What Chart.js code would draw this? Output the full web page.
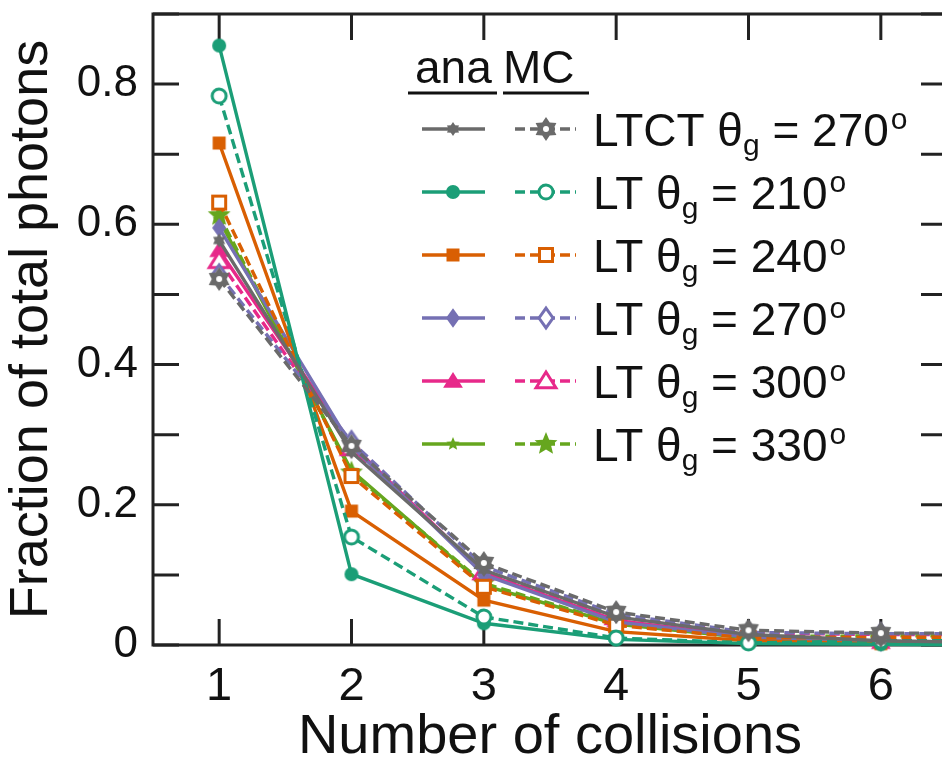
<!DOCTYPE html>
<html>
<head>
<meta charset="utf-8">
<script src="https://cdn.jsdelivr.net/npm/chart.js@4"></script>
<style>
  html, body { margin: 0; padding: 0; background: #fff; overflow: hidden; }
</style>
</head>
<body>
<canvas id="chart" width="960" height="771"></canvas>
<script>
// --- data ---
const collisions = [1, 2, 3, 4, 5, 6, 7];
const xTicks = [1, 2, 3, 4, 5, 6];
const yTicks = [0, 0.1, 0.2, 0.3, 0.4, 0.5, 0.6, 0.7, 0.8, 0.9];

const ltctAna  = [0.577, 0.275, 0.107, 0.040, 0.015, 0.006, 0.003];
const ltctMC   = [0.522, 0.284, 0.117, 0.047, 0.021, 0.017, 0.017];
const lt210Ana = [0.855, 0.101, 0.031, 0.008, 0.002, 0.001, 0.000];
const lt210MC  = [0.783, 0.154, 0.040, 0.010, 0.003, 0.006, 0.006];
const lt240Ana = [0.716, 0.191, 0.064, 0.019, 0.006, 0.002, 0.001];
const lt240MC  = [0.631, 0.241, 0.083, 0.028, 0.010, 0.011, 0.011];
const lt270Ana = [0.595, 0.284, 0.100, 0.033, 0.011, 0.004, 0.001];
const lt270MC  = [0.528, 0.290, 0.112, 0.044, 0.018, 0.016, 0.016];
const lt300Ana = [0.563, 0.286, 0.102, 0.035, 0.012, 0.004, 0.001];
const lt300MC  = [0.548, 0.281, 0.104, 0.040, 0.017, 0.015, 0.015];
const lt330Ana = [0.607, 0.249, 0.085, 0.030, 0.010, 0.003, 0.001];
const lt330MC  = [0.613, 0.246, 0.088, 0.031, 0.012, 0.013, 0.013];

const legendPrefix = ["LTCT θ", "LT θ", "LT θ", "LT θ", "LT θ", "LT θ"];
const legendAngle = ["270", "210", "240", "270", "300", "330"];

const FONT = '"Liberation Sans", Arial, Helvetica, sans-serif';
const INK = '#111';

// Marker images (drawn once on small canvases, used as pointStyle)
function tracePath(ctx, shape, cx, cy, s) {
  ctx.beginPath();
  if (shape === 'circle') {
    ctx.arc(cx, cy, s, 0, Math.PI * 2);
  } else if (shape === 'square') {
    ctx.rect(cx - s, cy - s, 2 * s, 2 * s);
  } else if (shape === 'diamond') {
    ctx.moveTo(cx, cy - s * 1.4);
    ctx.lineTo(cx + s, cy);
    ctx.lineTo(cx, cy + s * 1.4);
    ctx.lineTo(cx - s, cy);
    ctx.closePath();
  } else if (shape === 'triangle') {
    ctx.moveTo(cx, cy - s);
    ctx.lineTo(cx + s * 1.1, cy + s * 0.75);
    ctx.lineTo(cx - s * 1.1, cy + s * 0.75);
    ctx.closePath();
  } else if (shape === 'star5' || shape === 'star6') {
    const n = shape === 'star5' ? 5 : 6;
    const inner = shape === 'star5' ? 0.45 : 0.62;
    for (let i = 0; i < n * 2; i++) {
      const r = i % 2 === 0 ? s : s * inner;
      const a = -Math.PI / 2 + i * Math.PI / n;
      const px = cx + r * Math.cos(a), py = cy + r * Math.sin(a);
      if (i === 0) ctx.moveTo(px, py); else ctx.lineTo(px, py);
    }
    ctx.closePath();
  }
}

function makeMarker(shape, color, filled, s, hole) {
  const half = Math.ceil(s * 1.5) + 3;
  const c = document.createElement('canvas');
  c.width = c.height = half * 2;
  const ctx = c.getContext('2d');
  tracePath(ctx, shape, half, half, s);
  ctx.lineJoin = 'miter';
  if (filled) {
    ctx.fillStyle = color;
    ctx.fill();
    if (hole) {
      ctx.beginPath();
      ctx.arc(half, half, hole, 0, Math.PI * 2);
      ctx.fillStyle = '#fff';
      ctx.fill();
    }
  } else {
    ctx.fillStyle = '#fff';
    ctx.fill();
    ctx.strokeStyle = color;
    ctx.lineWidth = 3;
    ctx.stroke();
  }
  return c;
}

const GRAY = '#6a6a6a', TEAL = '#1b9e77', ORANGE = '#d95f02',
      PURPLE = '#7570b3', PINK = '#e7298a', GREEN = '#66a61e';

// rows of the legend: [ana series, MC series]
const rows = [
  { color: GRAY,   ana: ltctAna,  mc: ltctMC,  anaM: makeMarker('star6', GRAY, true, 7),      mcM: makeMarker('star6', GRAY, true, 12, 3) },
  { color: TEAL,   ana: lt210Ana, mc: lt210MC, anaM: makeMarker('circle', TEAL, true, 7),     mcM: makeMarker('circle', TEAL, false, 7) },
  { color: ORANGE, ana: lt240Ana, mc: lt240MC, anaM: makeMarker('square', ORANGE, true, 6.5), mcM: makeMarker('square', ORANGE, false, 6.5) },
  { color: PURPLE, ana: lt270Ana, mc: lt270MC, anaM: makeMarker('diamond', PURPLE, true, 7),  mcM: makeMarker('diamond', PURPLE, false, 7) },
  { color: PINK,   ana: lt300Ana, mc: lt300MC, anaM: makeMarker('triangle', PINK, true, 9),   mcM: makeMarker('triangle', PINK, false, 9) },
  { color: GREEN,  ana: lt330Ana, mc: lt330MC, anaM: makeMarker('star5', GREEN, true, 7),     mcM: makeMarker('star5', GREEN, true, 12) }
];

function toPoints(arr) {
  return collisions.map((c, i) => ({ x: c, y: arr[i] }));
}

const datasets = [];
rows.forEach(r => {
  datasets.push({
    data: toPoints(r.mc), borderColor: r.color, borderWidth: 3.4, borderDash: [10, 5],
    pointStyle: r.mcM, pointRadius: 8, tension: 0, fill: false, clip: false
  });
  datasets.push({
    data: toPoints(r.ana), borderColor: r.color, borderWidth: 3.4,
    pointStyle: r.anaM, pointRadius: 8, tension: 0, fill: false, clip: false
  });
});

// inward ticks + box frame
const framePlugin = {
  id: 'frame',
  beforeDatasetsDraw(chart) {
    const { ctx, chartArea: a, scales: { x, y } } = chart;
    const len = 26;
    ctx.save();
    ctx.strokeStyle = '#222';
    ctx.lineWidth = 3;
    ctx.beginPath();
    xTicks.forEach(v => {
      const px = x.getPixelForValue(v);
      ctx.moveTo(px, a.bottom); ctx.lineTo(px, a.bottom - len);
      ctx.moveTo(px, a.top); ctx.lineTo(px, a.top + len);
    });
    yTicks.forEach(v => {
      const py = y.getPixelForValue(v);
      ctx.moveTo(a.left, py); ctx.lineTo(a.left + len, py);
      ctx.moveTo(a.right, py); ctx.lineTo(a.right - len, py);
    });
    ctx.stroke();
    ctx.strokeRect(a.left, a.top, a.right - a.left, a.bottom - a.top);
    ctx.restore();
  }
};

// two-column legend (ana / MC) drawn on top
const legendPlugin = {
  id: 'twoColLegend',
  afterDraw(chart) {
    const ctx = chart.ctx;
    ctx.save();
    ctx.fillStyle = INK;
    ctx.font = '46px ' + FONT;
    ctx.textBaseline = 'alphabetic';
    ctx.fillText('ana', 415, 83);
    ctx.fillText('MC', 503, 83);
    ctx.strokeStyle = INK;
    ctx.lineWidth = 3;
    ctx.beginPath();
    ctx.moveTo(408, 93); ctx.lineTo(497, 93);
    ctx.moveTo(503, 93); ctx.lineTo(589, 93);
    ctx.stroke();

    rows.forEach((r, i) => {
      const yy = 129 + i * 63;
      ctx.strokeStyle = r.color;
      ctx.lineWidth = 3.4;
      ctx.setLineDash([]);
      ctx.beginPath(); ctx.moveTo(422, yy); ctx.lineTo(485, yy); ctx.stroke();
      ctx.setLineDash([10, 5]);
      ctx.beginPath(); ctx.moveTo(515, yy); ctx.lineTo(576, yy); ctx.stroke();
      ctx.setLineDash([]);
      ctx.drawImage(r.anaM, 453 - r.anaM.width / 2, yy - r.anaM.height / 2);
      ctx.drawImage(r.mcM, 546 - r.mcM.width / 2, yy - r.mcM.height / 2);

      // label with subscript g and superscript o
      const base = yy + 17;
      let tx = 593;
      ctx.fillStyle = INK;
      ctx.font = '46px ' + FONT;
      ctx.fillText(legendPrefix[i], tx, base);
      tx += ctx.measureText(legendPrefix[i]).width;
      ctx.font = '30px ' + FONT;
      ctx.fillText('g', tx, base + 9);
      tx += ctx.measureText('g').width;
      ctx.font = '46px ' + FONT;
      const rest = ' = ' + legendAngle[i];
      ctx.fillText(rest, tx, base);
      tx += ctx.measureText(rest).width + 2;
      ctx.font = '30px ' + FONT;
      ctx.fillText('o', tx, base - 17);
    });
    ctx.restore();
  }
};

function noPad(s) {
  s.paddingTop = 0; s.paddingBottom = 0; s.paddingLeft = 0; s.paddingRight = 0;
}

new Chart(document.getElementById('chart'), {
  type: 'line',
  data: { datasets },
  options: {
    responsive: false,
    animation: false,
    layout: { padding: { left: 0, right: 13, top: 14, bottom: 0 } },
    plugins: { legend: { display: false }, tooltip: { enabled: false } },
    scales: {
      x: {
        type: 'linear', min: 0.5, max: 6.5,
        afterBuildTicks: s => { s.ticks = xTicks.map(v => ({ value: v })); },
        afterFit: s => { s.height = 126; noPad(s); },
        grid: { display: false, drawTicks: false },
        border: { display: false },
        ticks: { font: { size: 47, family: FONT }, color: INK, padding: 14 },
        title: { display: true, text: 'Number of collisions', color: INK,
                 font: { size: 56, family: FONT }, padding: { top: 0, bottom: 0 } }
      },
      y: {
        type: 'linear', min: 0, max: 0.9,
        afterBuildTicks: s => { s.ticks = yTicks.map(v => ({ value: v })); },
        afterFit: s => { s.width = 153; noPad(s); },
        grid: { display: false, drawTicks: false },
        border: { display: false },
        ticks: {
          font: { size: 44, family: FONT }, color: INK, padding: 15,
          callback: v => {
            const k = Math.round(v * 10);
            if (k % 2 !== 0) return '';
            return k === 0 ? '0' : (k / 10).toFixed(1);
          }
        },
        title: { display: true, text: 'Fraction of total photons', color: INK,
                 font: { size: 54, family: FONT }, padding: { top: 0, bottom: 0 } }
      }
    }
  },
  plugins: [framePlugin, legendPlugin]
});
</script>
</body>
</html>
